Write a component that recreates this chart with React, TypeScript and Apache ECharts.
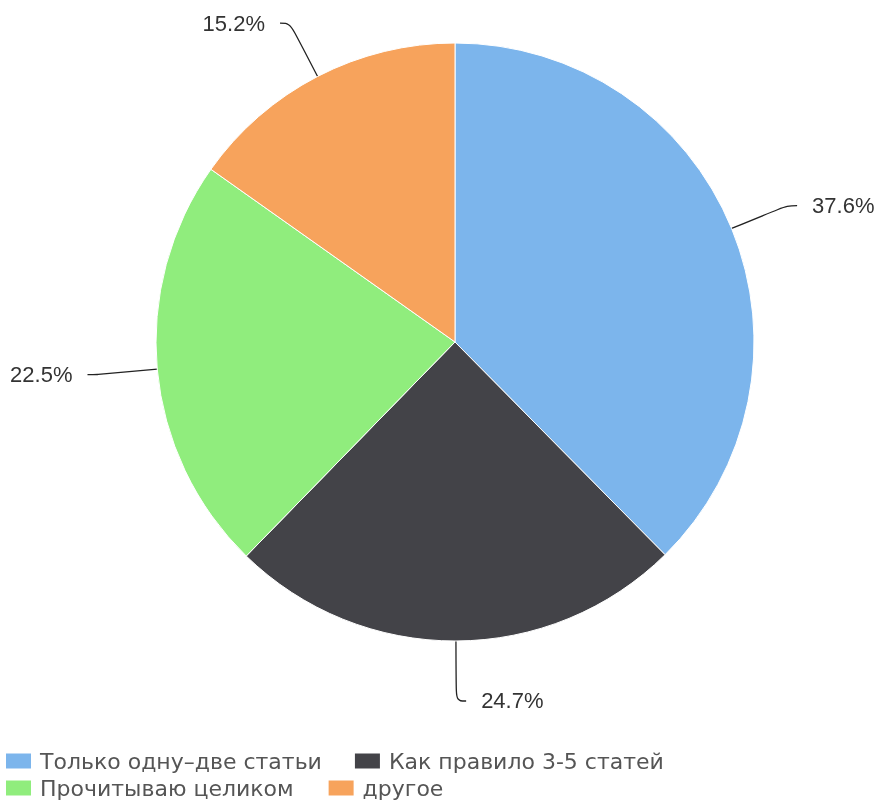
import React, { useEffect, useRef } from "react";
import * as echarts from "echarts";

const categories = [
  "Только одну–две статьи",
  "Как правило 3-5 статей",
  "Прочитываю целиком",
  "другое",
];
const values = [37.6, 24.7, 22.5, 15.2];
const colors = ["#7cb5ec", "#434348", "#90ed7d", "#f7a35c"];
const legendRow1 = [categories[0], categories[1]];
const legendRow2 = [categories[2], categories[3]];

export default function App() {
  const ref = useRef<HTMLDivElement>(null);
  useEffect(() => {
    if (!ref.current) return;
    const chart = echarts.init(ref.current, undefined, { renderer: "svg" });
    const legendCommon = {
      left: 4,
      padding: 0,
      orient: "horizontal" as const,
      icon: "rect",
      itemWidth: 27,
      itemHeight: 17,
      textStyle: {
        fontFamily: "DejaVu Sans",
        fontSize: 22,
        color: "#555555",
        padding: [0, 0, 0, 3],
      },
    };
    chart.setOption({
      animation: false,
      color: colors,
      legend: [
        { ...legendCommon, top: 750, itemGap: 31, data: legendRow1 },
        { ...legendCommon, top: 777, itemGap: 33, data: legendRow2 },
      ],
      series: [
        {
          type: "pie",
          center: [455, 342],
          radius: 299,
          startAngle: 90,
          clockwise: true,
          avoidLabelOverlap: false,
          itemStyle: { borderColor: "#ffffff", borderWidth: 1 },
          label: {
            show: true,
            formatter: (p: any) => p.value.toFixed(1) + "%",
            fontFamily: "Liberation Sans",
            fontSize: 22,
            color: "#333333",
            distanceToLabelLine: 15,
          },
          labelLine: {
            show: true,
            length: 60,
            length2: 10,
            smooth: 0.4,
            lineStyle: { color: "#222222", width: 1.3 },
          },
          data: categories.map((name, i) => ({ name, value: values[i] })),
        },
      ],
    });
    return () => chart.dispose();
  }, []);
  return (
    <div
      ref={ref}
      style={{ position: "fixed", left: 0, top: 0, width: 877, height: 807 }}
    />
  );
}
